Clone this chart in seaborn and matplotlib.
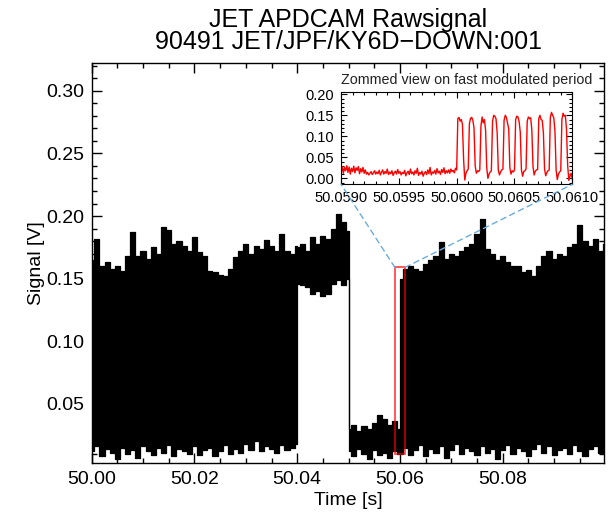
import numpy as np
import pandas as pd
import matplotlib
matplotlib.use("Agg")
import matplotlib.pyplot as plt
import seaborn as sns
from matplotlib.patches import Rectangle, ConnectionPatch
from matplotlib.ticker import MultipleLocator, FormatStrFormatter

# ---------------- data ----------------
title_lines = ["JET APDCAM Rawsignal", "90491 JET/JPF/KY6D\u2212DOWN:001"]
inset_title = "Zommed view on fast modulated period"

# segment boundaries [s]
seg_a = (50.000, 50.040)   # modulated
seg_b = (50.040, 50.050)   # high only
seg_c = (50.050, 50.060)   # low only
seg_d = (50.060, 50.100)   # modulated

# upper / lower envelope of the raw signal, 1 ms spacing [V]
hi_a = [0.165, 0.182, 0.160, 0.163, 0.158, 0.160, 0.156, 0.168, 0.187, 0.168,
        0.172, 0.166, 0.175, 0.170, 0.191, 0.189, 0.178, 0.180, 0.176, 0.172,
        0.183, 0.171, 0.168, 0.156, 0.155, 0.153, 0.152, 0.158, 0.167, 0.172,
        0.178, 0.170, 0.176, 0.174, 0.181, 0.176, 0.172, 0.186, 0.172, 0.170,
        0.176]
lo_a = [0.012, 0.016, 0.008, 0.014, 0.011, 0.006, 0.015, 0.010, 0.013, 0.007,
        0.016, 0.012, 0.009, 0.015, 0.011, 0.017, 0.008, 0.014, 0.012, 0.010,
        0.016, 0.009, 0.013, 0.015, 0.008, 0.012, 0.017, 0.010, 0.014, 0.011,
        0.018, 0.013, 0.020, 0.012, 0.016, 0.014, 0.011, 0.017, 0.013, 0.015,
        0.018]
hi_b = [0.175, 0.178, 0.172, 0.183, 0.178, 0.184, 0.182, 0.190, 0.202, 0.195, 0.188]
lo_b = [0.146, 0.145, 0.143, 0.138, 0.140, 0.136, 0.138, 0.146, 0.149, 0.145, 0.150]
hi_c = [0.030, 0.033, 0.028, 0.032, 0.030, 0.035, 0.041, 0.038, 0.033, 0.036, 0.030]
lo_c = [0.012, 0.008, 0.014, 0.010, 0.006, 0.013, 0.009, 0.011, 0.007, 0.012, 0.010]
hi_d = [0.150, 0.158, 0.160, 0.158, 0.156, 0.162, 0.165, 0.168, 0.179, 0.166,
        0.170, 0.168, 0.172, 0.175, 0.178, 0.186, 0.198, 0.174, 0.170, 0.165,
        0.168, 0.163, 0.160, 0.160, 0.155, 0.157, 0.152, 0.160, 0.168, 0.172,
        0.166, 0.170, 0.168, 0.175, 0.178, 0.193, 0.180, 0.176, 0.182, 0.172,
        0.178]
lo_d = [0.010, 0.015, 0.009, 0.013, 0.017, 0.008, 0.014, 0.011, 0.016, 0.007,
        0.013, 0.018, 0.010, 0.015, 0.012, 0.009, 0.016, 0.011, 0.014, 0.006,
        0.013, 0.017, 0.010, 0.015, 0.012, 0.008, 0.014, 0.018, 0.011, 0.016,
        0.009, 0.013, 0.015, 0.010, 0.017, 0.012, 0.008, 0.014, 0.016, 0.011,
        0.013]

# zoomed window (50.0590 - 50.0610 s), 10 us sampling
zoom_window = (50.0590, 50.0600, 50.0610)
zoom_low = [0.022, 0.028, 0.012, 0.026, 0.018, 0.030, 0.014, 0.027, 0.010, 0.024,
            0.016, 0.029, 0.013, 0.025, 0.019, 0.028, 0.011, 0.023, 0.015, 0.026,
            0.012, 0.020, 0.010, 0.014, 0.008, 0.012, 0.016, 0.009, 0.013, 0.018,
            0.010, 0.015, 0.011, 0.019, 0.008, 0.014, 0.020, 0.010, 0.016, 0.012,
            0.022, 0.009, 0.015, 0.011, 0.018, 0.007, 0.013, 0.017, 0.010, 0.021,
            0.012, 0.016, 0.008, 0.014, 0.011, 0.019, 0.006, 0.013, 0.017, 0.009,
            0.022, 0.011, 0.015, 0.008, 0.018, 0.012, 0.024, 0.007, 0.014, 0.010,
            0.017, 0.005, 0.012, 0.016, 0.009, 0.020, 0.011, 0.026, 0.008, 0.015,
            0.012, 0.019, 0.010, 0.023, 0.013, 0.017, 0.009, 0.021, 0.014, 0.025,
            0.011, 0.018, 0.013, 0.020, 0.012, 0.022, 0.016, 0.019, 0.013, 0.024]
zoom_mod = [0.020, 0.142, 0.145, 0.136, 0.140, 0.128, 0.045, -0.004, 0.012, 0.018,
            0.022, 0.130, 0.143, 0.145, 0.138, 0.120, 0.030, 0.012, 0.018, 0.016,
            0.020, 0.125, 0.146, 0.132, 0.140, 0.115, 0.025, 0.000, 0.010, 0.015,
            0.018, 0.135, 0.150, 0.148, 0.142, 0.110, 0.020, 0.008, 0.015, 0.020,
            0.022, 0.138, 0.150, 0.145, 0.132, 0.118, 0.025, 0.010, 0.018, 0.015,
            0.020, 0.140, 0.148, 0.146, 0.135, 0.110, 0.020, 0.005, 0.016, 0.018,
            0.022, 0.136, 0.146, 0.142, 0.144, 0.115, 0.028, 0.008, 0.017, 0.020,
            0.021, 0.142, 0.150, 0.140, 0.138, 0.108, 0.022, 0.006, 0.014, 0.018,
            0.020, 0.145, 0.157, 0.150, 0.144, 0.112, 0.020, -0.003, 0.010, 0.015,
            0.018, 0.140, 0.155, 0.148, 0.150, 0.115, 0.030, -0.005, 0.005, 0.012,
            -0.002]

# red marker box in the main plot (time, signal)
box_t = [50.059, 50.061]
box_v = [0.0096, 0.159]

# ---------------- build tables ----------------
segs = [(seg_a, hi_a, lo_a), (seg_b, hi_b, lo_b), (seg_c, hi_c, lo_c), (seg_d, hi_d, lo_d)]
frames = []
for k, (bounds, hi, lo) in enumerate(segs):
    t = np.linspace(bounds[0], bounds[1], len(hi))
    frames.append(pd.DataFrame({"t": t, "hi": hi, "lo": lo, "seg": k}))
env = pd.concat(frames, ignore_index=True)

t_low = np.linspace(zoom_window[0], zoom_window[1], len(zoom_low), endpoint=False)
t_mod = np.linspace(zoom_window[1], zoom_window[2], len(zoom_mod))
zoom = pd.DataFrame({"t": np.concatenate([t_low, t_mod]),
                     "v": np.concatenate([zoom_low, zoom_mod])})

# ---------------- styling ----------------
sns.set_theme(style="ticks")
plt.rcParams["font.family"] = ["Liberation Sans", "DejaVu Sans"]
plt.rcParams["axes.linewidth"] = 1.0
for key in ["axes.edgecolor", "xtick.color", "ytick.color", "text.color",
            "axes.labelcolor", "xtick.labelcolor", "ytick.labelcolor"]:
    plt.rcParams[key] = "black"

fig = plt.figure(figsize=(6.08, 5.12), dpi=100)
fig.patch.set_facecolor("white")
ax = fig.add_axes([0.1508, 0.0963, 0.8434, 0.7801])

# filled signal band
for k, g in env.groupby("seg"):
    ax.fill_between(g["t"], g["lo"], g["hi"], color="black", lw=0, step="mid")
sns.lineplot(data=env, x="t", y="hi", ax=ax, color="black", lw=0.9,
             estimator=None, sort=False, drawstyle="steps-mid")
sns.lineplot(data=env, x="t", y="lo", ax=ax, color="black", lw=0.9,
             estimator=None, sort=False, drawstyle="steps-mid")

ax.set_xlim(50.0, 50.0998)
ax.set_ylim(0.003, 0.322)
ax.xaxis.set_major_locator(MultipleLocator(0.02))
ax.xaxis.set_minor_locator(MultipleLocator(0.005))
ax.yaxis.set_major_locator(MultipleLocator(0.05))
ax.yaxis.set_minor_locator(MultipleLocator(0.01))
ax.xaxis.set_major_formatter(FormatStrFormatter("%.2f"))
ax.yaxis.set_major_formatter(FormatStrFormatter("%.2f"))
ax.tick_params(which="both", direction="in", top=True, right=True, labelsize=14)
ax.tick_params(which="major", length=7, width=1)
ax.tick_params(which="minor", length=3.5, width=1)
ax.tick_params(axis="x", which="major", pad=6)
ax.tick_params(axis="y", which="major", pad=5)
ax.set_xlabel("Time [s]", fontsize=14, labelpad=3)
ax.set_ylabel("Signal [V]", fontsize=14, labelpad=1)

# red box
rect = Rectangle((box_t[0], box_v[0]), box_t[1] - box_t[0], box_v[1] - box_v[0],
                 fill=False, ec="red", alpha=0.7, lw=1.3, zorder=5)
ax.add_patch(rect)

# inset
axin = fig.add_axes([0.5609, 0.6400, 0.3804, 0.1803])
axin.set_facecolor("white")
sns.lineplot(data=zoom, x="t", y="v", ax=axin, color="red", lw=1.0,
             estimator=None, sort=False)
axin.set_xlim(zoom_window[0], zoom_window[2])
axin.set_ylim(-0.0143, 0.2055)
axin.xaxis.set_major_locator(MultipleLocator(0.0005))
axin.xaxis.set_minor_locator(MultipleLocator(0.0001))
axin.yaxis.set_major_locator(MultipleLocator(0.05))
axin.yaxis.set_minor_locator(MultipleLocator(0.01))
axin.xaxis.set_major_formatter(FormatStrFormatter("%.4f"))
axin.yaxis.set_major_formatter(FormatStrFormatter("%.2f"))
axin.tick_params(which="both", direction="in", top=True, right=True, labelsize=10.5, width=0.8)
axin.tick_params(which="major", length=4)
axin.tick_params(which="minor", length=2)
axin.tick_params(axis="x", which="major", pad=5)
axin.tick_params(axis="y", which="major", pad=5)
for s in axin.spines.values():
    s.set_linewidth(0.8)
axin.set_xlabel("")
axin.set_ylabel("")
axin.set_title(inset_title, loc="left", fontsize=10.3, pad=5.5, color="#222222")

# dashed connector lines
for xa, xb in [(box_t[0], 0.0), (box_t[1], 1.0)]:
    con = ConnectionPatch(xyA=(xa, box_v[1]), coordsA=ax.transData,
                          xyB=(xb, 0.0), coordsB=axin.transAxes,
                          color="#6aaee0", lw=1.0, linestyle=(0, (4, 3)), zorder=6)
    fig.add_artist(con)

# title
cx = 0.1508 + 0.8434 / 2
fig.text(cx, 1 - 27 / 512, title_lines[0], ha="center", va="baseline", fontsize=18)
fig.text(cx, 1 - 49 / 512, title_lines[1], ha="center", va="baseline", fontsize=18)

fig.savefig("out.png", dpi=100, facecolor="white")
